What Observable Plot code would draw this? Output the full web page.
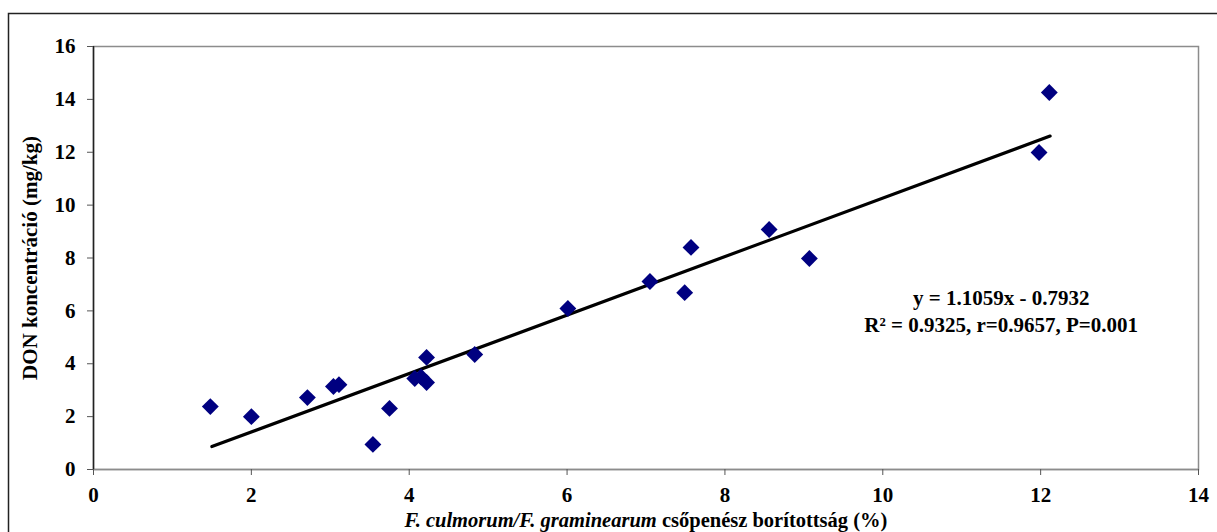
<!DOCTYPE html>
<html>
<head>
<meta charset="utf-8">
<script src="https://cdn.jsdelivr.net/npm/d3@7"></script>
<script src="https://cdn.jsdelivr.net/npm/@observablehq/plot@0.6"></script>
<style>
  html, body { margin: 0; padding: 0; background: #fff; overflow: hidden; }
  #chart svg text { font-weight: bold; }
  #chart svg g[aria-label="x-axis tick label"],
  #chart svg g[aria-label="y-axis tick label"] { font-size: 21px; font-weight: bold; }
</style>
</head>
<body>
<div id="chart"></div>
<script>
// Data
const coverage = [1.48, 2.0, 2.71, 3.04, 3.11, 3.54, 3.75, 4.07, 4.15, 4.22, 4.22, 4.83, 6.01, 7.05, 7.49, 7.57, 8.56, 9.07, 11.98, 12.11];
const don      = [2.38, 2.0, 2.72, 3.14, 3.21, 0.95, 2.31, 3.44, 3.50, 4.24, 3.29, 4.35, 6.09, 7.11, 6.69, 8.40, 9.08, 7.98, 11.99, 14.26];
const trendX = [1.5, 12.12];
const slope = 1.1059, intercept = -0.7932;
const xTicks = [0, 2, 4, 6, 8, 10, 12, 14];
const yTicks = [0, 2, 4, 6, 8, 10, 12, 14, 16];
const noteLines = ["y = 1.1059x - 0.7932", "R² = 0.9325, r=0.9657, P=0.001"];
const noteX = [11.5, 11.5];
const noteY = [6.47, 5.45];

const points = coverage.map((x, i) => ({x, y: don[i]}));
const trend = trendX.map(x => ({x, y: slope * x + intercept}));
const notes = noteLines.map((t, i) => ({t, x: noteX[i], y: noteY[i]}));

const FS = 21;

const chart = Plot.plot({
  width: 1217,
  height: 532,
  marginLeft: 93,
  marginRight: 19,
  marginTop: 46,
  marginBottom: 63,
  style: {fontFamily: "'Liberation Serif', 'Times New Roman', serif", fontSize: FS + "px", color: "#000", background: "#fff"},
  x: {domain: [0, 14]},
  y: {domain: [0, 16]},
  marks: [
    Plot.frame({stroke: "#8c8c8c", strokeWidth: 1.5}),
    Plot.ruleY([0], {stroke: "#8c8c8c", strokeWidth: 1.5}),
    Plot.ruleX([0], {stroke: "#222", strokeWidth: 1.5}),
    Plot.axisX({ticks: xTicks, tickSize: 6, tickPadding: 12, stroke: "#555", label: null, fontSize: FS, fontWeight: "bold"}),
    Plot.axisY({ticks: yTicks, tickSize: 6, tickPadding: 12, stroke: "#555", label: null, fontSize: FS, fontWeight: "bold"}),
    Plot.line(trend, {x: "x", y: "y", stroke: "#000", strokeWidth: 3.2}),
    Plot.dot(points, {x: "x", y: "y", symbol: "diamond2", r: 7.6, fill: "#000080", stroke: "none"}),
    Plot.text(notes, {x: "x", y: "y", text: "t", fontSize: FS, fontWeight: "bold", fill: "#000"})
  ]
});

document.getElementById("chart").appendChild(chart);

const svg = d3.select(chart);
// make sure tick labels get the larger font
svg.selectAll('g[aria-label="x-axis tick label"], g[aria-label="y-axis tick label"]')
  .attr("font-size", FS).attr("font-weight", "bold");

// outer chart border
svg.append("rect")
  .attr("x", 8.5).attr("y", 13.5)
  .attr("width", 1400).attr("height", 700)
  .attr("fill", "none").attr("stroke", "#222").attr("stroke-width", 1.5);

// y axis title
svg.append("text")
  .attr("transform", "translate(32,258) rotate(-90)")
  .attr("text-anchor", "middle")
  .attr("dominant-baseline", "middle")
  .attr("font-size", FS)
  .attr("font-weight", "bold")
  .attr("fill", "#000")
  .text("DON koncentráció (mg/kg)");

// x axis title with italic species names
const xt = svg.append("text")
  .attr("x", 646).attr("y", 522)
  .attr("text-anchor", "middle")
  .attr("dominant-baseline", "middle")
  .attr("font-size", FS - 0.5)
  .attr("font-weight", "bold")
  .attr("fill", "#000");
xt.append("tspan").attr("font-style", "italic").text("F. culmorum/F. graminearum");
xt.append("tspan").text(" csőpenész borítottság (%)");
</script>
</body>
</html>
